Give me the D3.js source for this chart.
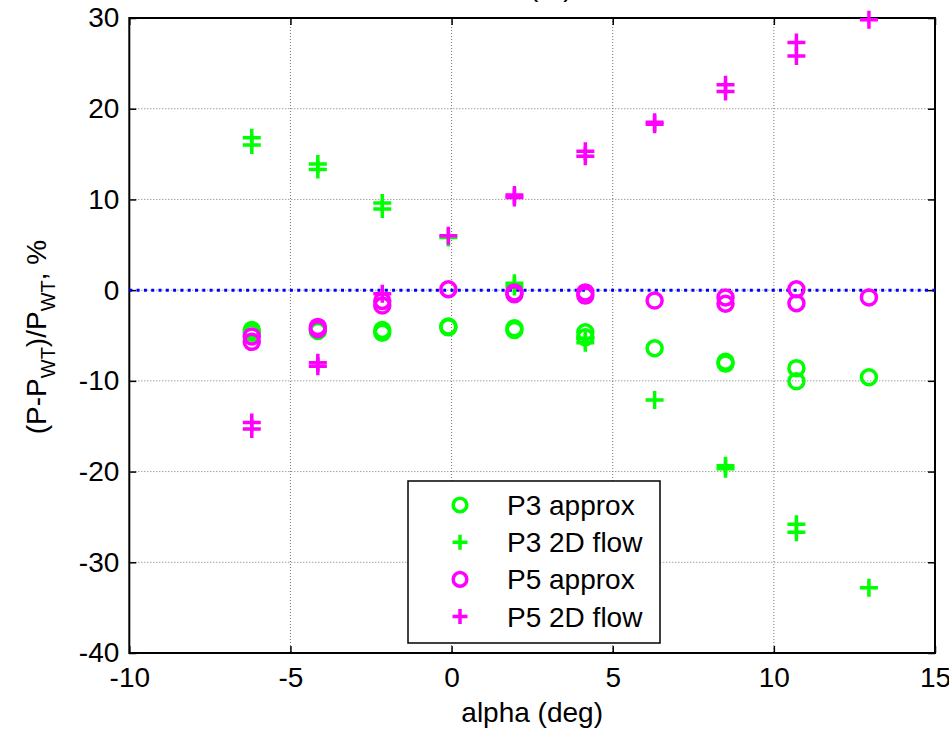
<!DOCTYPE html>
<html>
<head>
<meta charset="utf-8">
<script src="https://cdn.jsdelivr.net/npm/d3@7/dist/d3.min.js"></script>
<style>
  html, body { margin: 0; padding: 0; background: #fff; }
  svg { display: block; font-family: Arial, "Liberation Sans", Helvetica, sans-serif; }
</style>
</head>
<body>
<svg id="chart" width="949" height="730"></svg>
<script>
// Angle of attack for each measured condition (deg)
const alpha = [-6.2, -4.15, -2.15, -0.1, 1.95, 4.15, 6.3, 8.5, 10.7, 12.95];

// Pressure deviation (%) at each angle; repeated runs are listed together
const p3Approx = [[-4.4, -4.7], [-4.3, -4.5], [-4.4, -4.7], [-4.0, -4.1], [-4.2, -4.4],
                  [-4.65, -5.2], [-6.4], [-7.9, -8.1], [-8.6, -10.05], [-9.6]];
const p3Flow2D = [[16.8, 16.0], [13.9, 13.3], [9.6, 8.95], [5.8], [0.75, 0.4],
                  [-5.3, -5.8], [-12.1], [-19.35, -19.7], [-25.8, -26.7], [-32.8]];
const p5Approx = [[-5.1, -5.7], [-4.05, -4.3], [-1.2, -1.7], [0.1], [-0.25, -0.45],
                  [-0.25, -0.6], [-1.15], [-0.8, -1.5], [0.1, -1.45], [-0.8]];
const p5Flow2D = [[-14.6, -15.3], [-8.0, -8.4], [-0.4], [6.0], [10.5, 10.2],
                  [15.3, 14.75], [18.5, 18.3], [22.65, 21.9], [27.3, 25.8], [29.8]];

const xTicks = [-10, -5, 0, 5, 10, 15];
const yTicks = [-40, -30, -20, -10, 0, 10, 20, 30];

const seriesNames = ["P3 approx", "P3 2D flow", "P5 approx", "P5 2D flow"];
const seriesValues = [p3Approx, p3Flow2D, p5Approx, p5Flow2D];
const seriesColors = ["#00ff00", "#00ff00", "#ff00ff", "#ff00ff"];
const seriesMarkers = ["circle", "plus", "circle", "plus"];

const margin = { left: 129.3, right: 935, top: 18, bottom: 653 };
const fontSize = 28;

const svg = d3.select("#chart");
const x = d3.scaleLinear().domain([-10, 15]).range([margin.left, margin.right]);
const y = d3.scaleLinear().domain([-40, 30]).range([margin.bottom, margin.top]);

// Title (sits mostly above the visible area)
svg.append("text")
  .attr("x", 529).attr("y", -4)
  .attr("font-size", fontSize)
  .text("(%)");

// Grid lines
const grid = svg.append("g");
grid.selectAll(".gx").data(xTicks.slice(1, -1)).enter().append("line")
  .attr("x1", d => x(d)).attr("x2", d => x(d))
  .attr("y1", margin.top).attr("y2", margin.bottom)
  .attr("stroke", "#777").attr("stroke-width", 1).attr("stroke-dasharray", "1,2");
grid.selectAll(".gy").data(yTicks.slice(1, -1)).enter().append("line")
  .attr("y1", d => y(d)).attr("y2", d => y(d))
  .attr("x1", margin.left).attr("x2", margin.right)
  .attr("stroke", "#777").attr("stroke-width", 1).attr("stroke-dasharray", "1,2");

// Axes with inward ticks on all four sides; labels use a plain hyphen for negatives
const tick = 7;
const plain = d => String(d);
const bottomAxis = d3.axisBottom(x).tickValues(xTicks).tickSize(-tick).tickPadding(14).tickFormat(plain);
const leftAxis = d3.axisLeft(y).tickValues(yTicks).tickSize(-tick).tickPadding(10).tickFormat(plain);
const topAxis = d3.axisTop(x).tickValues(xTicks).tickSize(-tick).tickFormat("");
const rightAxis = d3.axisRight(y).tickValues(yTicks).tickSize(-tick).tickFormat("");

function styleAxis(g) {
  g.select(".domain").remove();
  g.selectAll(".tick line").attr("stroke", "#000").attr("stroke-width", 1.5);
  g.selectAll(".tick text").attr("fill", "#000").attr("font-size", fontSize)
    .attr("font-family", "Arial, 'Liberation Sans', sans-serif");
}
svg.append("g").attr("transform", `translate(0,${margin.bottom})`).call(bottomAxis).call(styleAxis);
svg.append("g").attr("transform", `translate(${margin.left},0)`).call(leftAxis).call(styleAxis);
svg.append("g").attr("transform", `translate(0,${margin.top})`).call(topAxis).call(styleAxis);
svg.append("g").attr("transform", `translate(${margin.right},0)`).call(rightAxis).call(styleAxis);

// Plot box
svg.append("rect")
  .attr("x", margin.left).attr("y", margin.top)
  .attr("width", margin.right - margin.left).attr("height", margin.bottom - margin.top)
  .attr("fill", "none").attr("stroke", "#000").attr("stroke-width", 2);

// Zero reference line
svg.append("line")
  .attr("x1", margin.left).attr("x2", margin.right)
  .attr("y1", y(0)).attr("y2", y(0))
  .attr("stroke", "#0000ff").attr("stroke-width", 3).attr("stroke-dasharray", "3,4.3");

// Marker drawing helper
function drawMarker(g, type, cx, cy, color, size, r) {
  if (type === "circle") {
    g.append("circle").attr("cx", cx).attr("cy", cy).attr("r", r)
      .attr("fill", "none").attr("stroke", color).attr("stroke-width", 3.5);
  } else {
    g.append("path")
      .attr("d", `M${cx - size},${cy}H${cx + size}M${cx},${cy - size}V${cy + size}`)
      .attr("stroke", color).attr("stroke-width", 3.5).attr("fill", "none");
  }
}

// Data markers
seriesValues.forEach((vals, si) => {
  const g = svg.append("g");
  const pts = [];
  vals.forEach((arr, i) => arr.forEach(v => pts.push({ a: alpha[i], v })));
  pts.forEach(p => drawMarker(g, seriesMarkers[si], x(p.a), y(p.v), seriesColors[si], 9, 7.5));
});

// Legend
const legend = svg.append("g");
const lx = 408, ly = 481, lw = 252, lh = 162;
legend.append("rect").attr("x", lx).attr("y", ly).attr("width", lw).attr("height", lh)
  .attr("fill", "#fff").attr("stroke", "#000").attr("stroke-width", 1.5);
seriesNames.forEach((name, i) => {
  const cy = ly + 24 + i * 37.2;
  drawMarker(legend, seriesMarkers[i], lx + 52, cy, seriesColors[i], 7.5, 6.8);
  legend.append("text").attr("x", lx + 99).attr("y", cy + 10)
    .attr("font-size", fontSize).text(name);
});

// Axis labels
svg.append("text")
  .attr("x", (margin.left + margin.right) / 2).attr("y", 722)
  .attr("text-anchor", "middle").attr("font-size", fontSize)
  .text("alpha (deg)");

const yl = svg.append("text")
  .attr("transform", "translate(46,337) rotate(-90)")
  .attr("text-anchor", "middle").attr("font-size", fontSize);
yl.append("tspan").text("(P-P");
yl.append("tspan").attr("font-size", 20).attr("dy", 9).text("WT");
yl.append("tspan").attr("dy", -9).text(")/P");
yl.append("tspan").attr("font-size", 20).attr("dy", 9).text("WT");
yl.append("tspan").attr("dy", -9).text(", %");
</script>
</body>
</html>
